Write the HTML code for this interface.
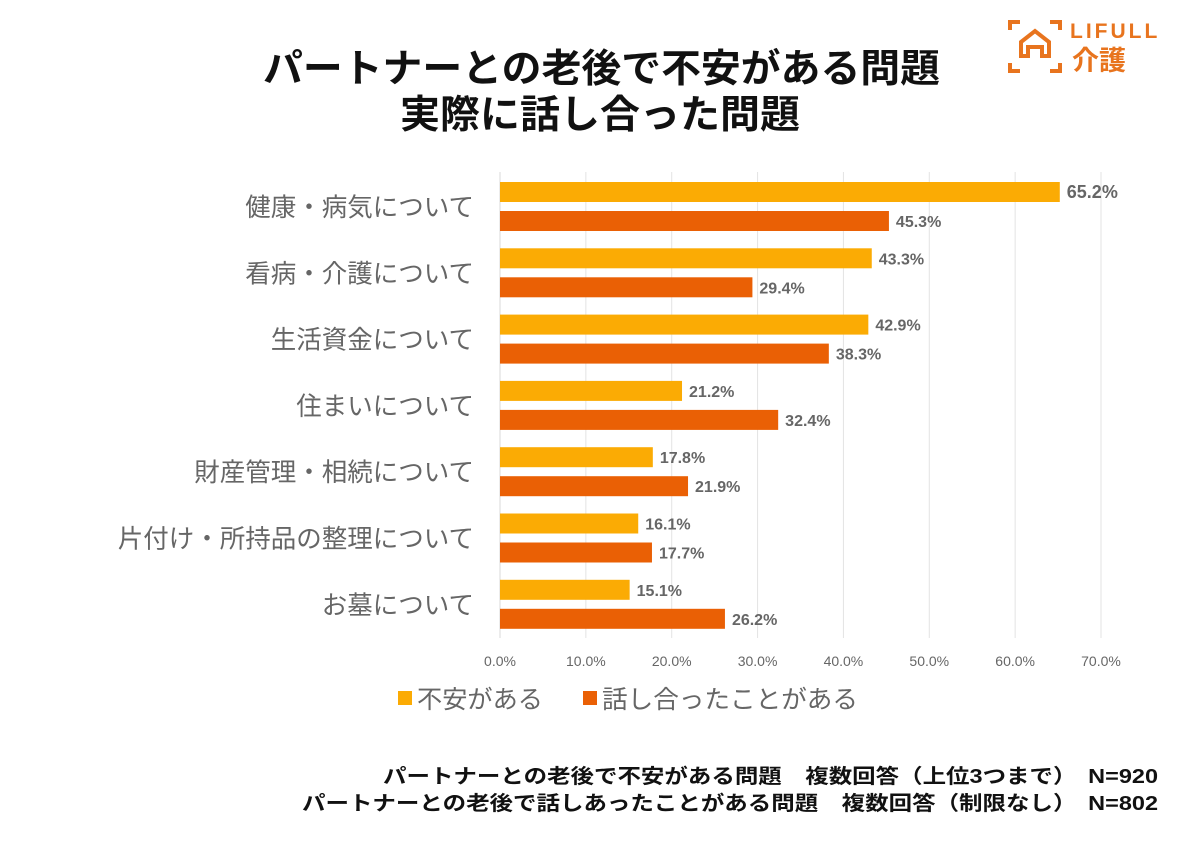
<!DOCTYPE html>
<html><head><meta charset="utf-8"><style>
body{margin:0;background:#fff;width:1200px;height:848px;overflow:hidden;font-family:"Liberation Sans","Noto Sans CJK JP",sans-serif}
</style></head><body>
<svg width="1200" height="848" xmlns="http://www.w3.org/2000/svg" font-family="Liberation Sans, Noto Sans CJK JP, sans-serif">
<g font-weight="bold" font-size="39" fill="#111">
<text x="263" y="82" textLength="677" lengthAdjust="spacingAndGlyphs">パートナーとの老後で不安がある問題</text>
<text x="400" y="128" textLength="400" lengthAdjust="spacingAndGlyphs">実際に話し合った問題</text>
</g>
<g stroke="#e8741e" stroke-width="4" fill="none">
<path d="M1010 30v-8h10M1050 22h10v8M1010 63v8h10M1050 71h10v-8"/>
<path d="M1021 56v-14l14-11 14 11v14h-7v-9h-14v9z"/>
<text x="1070" y="38" fill="#e8741e" stroke="none" font-size="21" font-weight="bold" letter-spacing="3">LIFULL</text>
<text x="1072" y="70" fill="#e8741e" stroke="none" font-size="27" font-weight="bold">介護</text>
</g>
<g id="grid"></g><g id="bars"></g><g id="cats"></g><g id="ticks"></g>
<g font-size="25" fill="#666">
<rect x="398" y="691" width="14" height="14" fill="#fbab04"/>
<text x="417" y="708" textLength="126" lengthAdjust="spacingAndGlyphs">不安がある</text>
<rect x="583" y="691" width="14" height="14" fill="#ea6005"/>
<text x="602" y="708" textLength="256" lengthAdjust="spacingAndGlyphs">話し合ったことがある</text>
</g>
<g font-size="20" font-weight="bold" fill="#111">
<text x="383" y="783" textLength="775" lengthAdjust="spacingAndGlyphs">パートナーとの老後で不安がある問題　複数回答（上位3つまで）　N=920</text>
<text x="302" y="810" textLength="856" lengthAdjust="spacingAndGlyphs">パートナーとの老後で話しあったことがある問題　複数回答（制限なし）　N=802</text>
</g>
</svg>
<script>
const categories=["健康・病気について","看病・介護について","生活資金について","住まいについて","財産管理・相続について","片付け・所持品の整理について","お墓について"];
const anxiety=[65.2,43.3,42.9,21.2,17.8,16.1,15.1];
const discussed=[45.3,29.4,38.3,32.4,21.9,17.7,26.2];
const ticks=[0,10,20,30,40,50,60,70];
const NS="http://www.w3.org/2000/svg";
const x=v=>500+v*(1101-500)/70;
const rowY=i=>182+i*66.3;
function mk(tag,attrs,parent){const e=document.createElementNS(NS,tag);for(const k in attrs)e.setAttribute(k,attrs[k]);document.getElementById(parent).appendChild(e);return e;}
ticks.forEach(t=>{
 if(t>0){const g=mk('line',{x1:x(t),x2:x(t),y1:172,y2:638,stroke:'#e3e3e3','stroke-width':1},'grid');
 
 }
 const l=mk('text',{x:x(t),y:666,'text-anchor':'middle','font-size':14,fill:'#666'},'ticks');
 l.textContent=t.toFixed(1)+'%';
 
 
});
const ax=mk('line',{x1:500,x2:500,y1:172,y2:638,stroke:'#d8d8d8'},'grid');


categories.forEach((c,i)=>{
 const y=rowY(i);
 const ct=mk('text',{x:474,y:y+34,'text-anchor':'end','font-size':25.5,fill:'#666'},'cats');
 ct.textContent=c;
 
 
 [[anxiety[i],'#fbab04',0,'bar-anxiety'],[discussed[i],'#ea6005',29,'bar-discussed']].forEach(([v,col,dy,nm])=>{
  const b=mk('rect',{x:500,y:y+dy,width:x(v)-500,height:20,fill:col},'bars');
  
  
  const t=mk('text',{x:x(v)+7,y:y+dy+16,'font-size':i===0&&dy===0?18:16,'font-weight':'bold',fill:'#666'},'bars');
  t.textContent=v.toFixed(1)+'%';
  
  
 });
});
</script>
</body></html>
